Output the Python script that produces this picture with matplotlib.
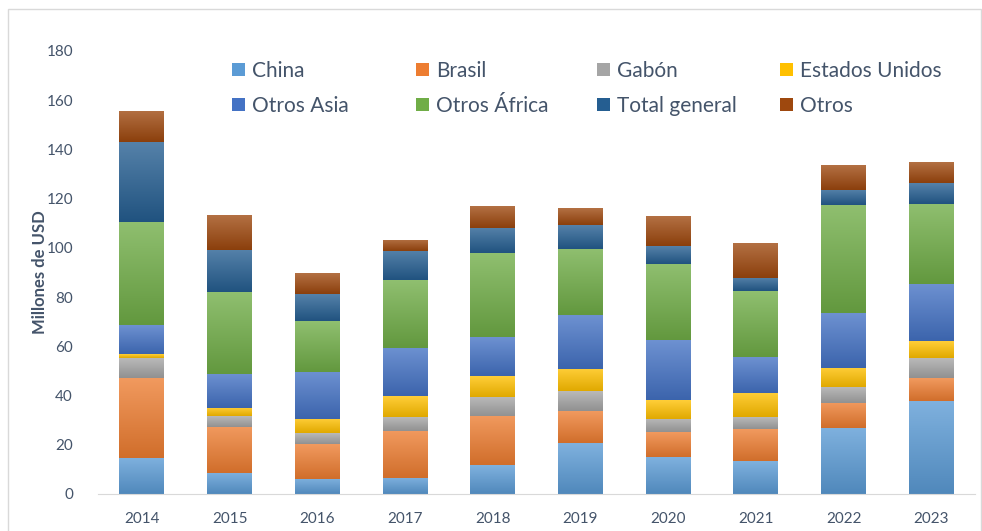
import matplotlib
matplotlib.use("Agg")
import matplotlib.pyplot as plt
import matplotlib.colors as mcolors
from matplotlib.patches import Rectangle
import numpy as np

# Data (millones de USD)
years = ['2014', '2015', '2016', '2017', '2018', '2019', '2020', '2021', '2022', '2023']
china = [14.7, 8.6, 6.1, 6.6, 11.6, 20.7, 14.9, 13.4, 26.9, 37.9]
brasil = [32.5, 18.7, 14.1, 19.1, 20.2, 13.0, 10.1, 12.9, 10.2, 9.2]
gabon = [8.0, 4.2, 4.4, 5.6, 7.6, 8.1, 5.5, 4.8, 6.3, 8.1]
eeuu = [1.6, 3.3, 5.9, 8.5, 8.5, 9.0, 7.7, 10.0, 7.8, 6.8]
otros_asia = [11.7, 13.9, 19.2, 19.6, 15.8, 21.9, 24.3, 14.6, 22.2, 23.4]
otros_africa = [41.9, 33.3, 20.7, 27.4, 34.1, 26.9, 31.0, 26.7, 44.1, 32.6]
total_general = [32.5, 17.3, 10.8, 12.0, 10.3, 9.6, 7.3, 5.3, 6.2, 8.3]
otros = [12.6, 14.1, 8.5, 4.6, 8.8, 6.8, 12.1, 14.1, 9.9, 8.5]

series = [
    ('China', china, '#5B9BD5'),
    ('Brasil', brasil, '#ED7D31'),
    ('Gabón', gabon, '#A5A5A5'),
    ('Estados Unidos', eeuu, '#FFC000'),
    ('Otros Asia', otros_asia, '#4472C4'),
    ('Otros África', otros_africa, '#70AD47'),
    ('Total general', total_general, '#255E91'),
    ('Otros', otros, '#9E480E'),
]

plt.rcParams['font.family'] = ['Lato', 'DejaVu Sans']
txt_color = '#44546A'

fig = plt.figure(figsize=(9.82, 5.31), dpi=100)
ax = fig.add_axes([0.0998, 0.0697, 0.8932, 0.8343])

# outer chart border
fig.patches.append(Rectangle((8 / 982, -0.01), 973 / 982, 1 - 9 / 531 + 0.01,
                             transform=fig.transFigure, fill=False,
                             edgecolor='#D9D9D9', linewidth=1))


def gradient_bars(bars, color):
    # Excel-like vertical gradient: lighter on top, darker at the bottom
    c = np.array(mcolors.to_rgb(color))
    top = c + (1 - c) * 0.22
    bot = c * 0.88
    t = np.linspace(0, 1, 64)[:, None, None]
    img = top[None, None, :] * (1 - t) + bot[None, None, :] * t
    for b in bars:
        x0, y0 = b.get_x(), b.get_y()
        w, h = b.get_width(), b.get_height()
        if h <= 0:
            continue
        im = ax.imshow(img, extent=(x0, x0 + w, y0, y0 + h), origin='upper',
                       aspect='auto', zorder=2, interpolation='bilinear')
        im.set_clip_path(b)


x = np.arange(len(years))
bottom = np.zeros(len(years))
handles = {}
for name, vals, col in series:
    bars = ax.bar(x, vals, width=0.51, bottom=bottom, color=col,
                  edgecolor='none', label=name, zorder=1)
    gradient_bars(bars, col)
    handles[name] = bars
    bottom += np.array(vals)

ax.set_xlim(-0.5, len(years) - 0.5)
ax.set_ylim(0, 180)
ax.set_yticks(range(0, 181, 20))
ax.set_xticks(x)
ax.set_xticklabels(years)
ax.tick_params(axis='both', length=0, labelsize=11, labelcolor=txt_color)
ax.tick_params(axis='y', pad=18)
ax.tick_params(axis='x', pad=13)
for s in ['top', 'right', 'left']:
    ax.spines[s].set_visible(False)
ax.spines['bottom'].set_color('#D9D9D9')
ax.set_ylabel('Millones de USD', fontsize=12, fontweight='bold', color=txt_color,
              labelpad=-1)

# legend: 4 columns of 2 rows, placed by hand
cols = [('China', 'Otros Asia'), ('Brasil', 'Otros África'),
        ('Gabón', 'Total general'), ('Estados Unidos', 'Otros')]
col_x = [232, 416, 597, 780]
for names, px in zip(cols, col_x):
    fig.legend([handles[n] for n in names], names, loc='upper left',
               bbox_to_anchor=(px / 982, 1 - 61 / 531),
               bbox_transform=fig.transFigure, frameon=False,
               fontsize=15, handlelength=0.62, handleheight=0.62,
               handletextpad=0.35, labelspacing=0.72, labelcolor=txt_color,
               borderpad=0, borderaxespad=0)

fig.savefig('out.png', dpi=100)
